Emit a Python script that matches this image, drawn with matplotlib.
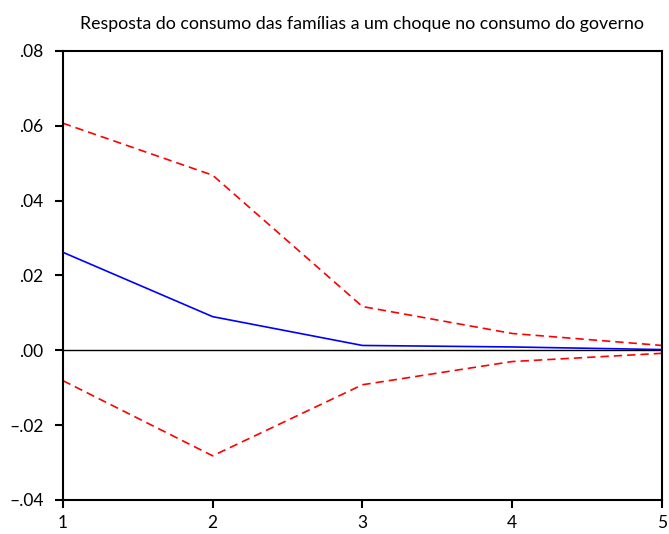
import matplotlib
matplotlib.use("Agg")
import matplotlib.pyplot as plt
from matplotlib.ticker import FuncFormatter

periods = [1, 2, 3, 4, 5]
response = [0.0262, 0.0090, 0.0013, 0.0009, 0.0002]
upper = [0.0607, 0.0468, 0.0117, 0.0045, 0.0013]
lower = [-0.0081, -0.0282, -0.0092, -0.0030, -0.0008]
yticks = [-0.04, -0.02, 0.00, 0.02, 0.04, 0.06, 0.08]
title = "Resposta do consumo das famílias a um choque no consumo do governo"

plt.rcParams['font.family'] = ['Lato', 'DejaVu Sans']

fig = plt.figure(figsize=(6.69, 5.34), dpi=100)
ax = fig.add_axes([0.094, 0.0637, 0.8955, 0.8408])

ax.axhline(0, color='black', lw=1.0, zorder=1)
ax.plot(periods, upper, color='red', lw=1.2, dashes=(5, 3), zorder=2)
ax.plot(periods, lower, color='red', lw=1.2, dashes=(5, 3), zorder=2)
ax.plot(periods, response, color='blue', lw=1.2, zorder=3)

ax.set_xlim(1, 5)
ax.set_ylim(-0.04, 0.08)
ax.set_xticks(periods)
ax.set_yticks(yticks)

def fmt(v, pos):
    s = f"{v:.2f}"
    s = s.replace("0.", ".")
    if v < 0:
        s = s.replace("-", "\u2013")
    return s

ax.yaxis.set_major_formatter(FuncFormatter(fmt))
ax.tick_params(direction='out', length=6, width=1.5, labelsize=12.5, colors='black')
ax.tick_params(axis='y', pad=8)
ax.tick_params(axis='x', pad=5)
for sp in ax.spines.values():
    sp.set_linewidth(1.5)

ax.text(0.5, 1.06, title, transform=ax.transAxes, ha='center', va='center', fontsize=12.8)

fig.savefig("out.png", dpi=100)
